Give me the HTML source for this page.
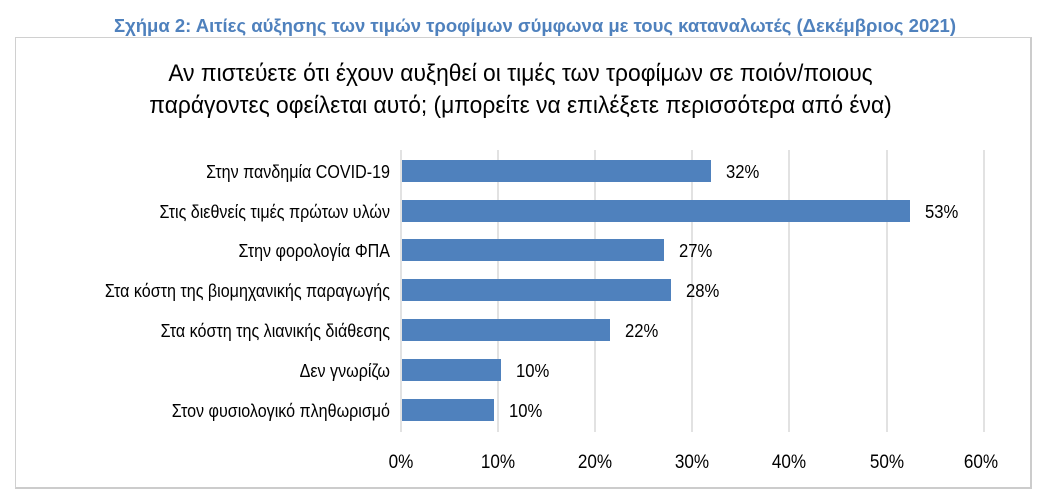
<!DOCTYPE html>
<html><head><meta charset="utf-8"><style>
body{margin:0;width:1041px;height:496px;background:#fff;font-family:"Liberation Sans",sans-serif;position:relative;overflow:hidden}
.t{position:absolute;white-space:nowrap}
</style></head><body>
<div class="t" style="left:0;width:1070px;text-align:center;top:15px;font-size:18.5px;font-weight:bold;color:#4f81bd">Σχήμα 2: Αιτίες αύξησης των τιμών τροφίμων σύμφωνα με τους καταναλωτές (Δεκέμβριος 2021)</div>
<div style="position:absolute;left:15px;top:37px;width:1014px;height:449px;border:1px solid #d0d0d0;border-right:2px solid #ccc;border-bottom:2px solid #ccc"></div>
<div class="t" style="left:0;width:1041px;text-align:center;top:58px;font-size:24px;line-height:32px;color:#000;transform:scaleX(0.95);transform-origin:521px 0">Αν πιστεύετε ότι έχουν αυξηθεί οι τιμές των τροφίμων σε ποιόν/ποιους<br>παράγοντες οφείλεται αυτό; (μπορείτε να επιλέξετε περισσότερα από ένα)</div>
<svg width="1041" height="496" style="position:absolute;left:0;top:0" font-family="Liberation Sans, sans-serif">
<g stroke="#d9d9d9" stroke-width="1.5">
<line x1="401" y1="150" x2="401" y2="432"/><line x1="498" y1="150" x2="498" y2="432"/><line x1="595" y1="150" x2="595" y2="432"/><line x1="692" y1="150" x2="692" y2="432"/><line x1="789" y1="150" x2="789" y2="432"/><line x1="887" y1="150" x2="887" y2="432"/><line x1="984" y1="150" x2="984" y2="432"/>
</g>
<g fill="#4f81bd">
<rect x="402" y="160" width="309" height="22"/>
<rect x="402" y="200" width="508" height="22"/>
<rect x="402" y="239" width="262" height="22"/>
<rect x="402" y="279" width="269" height="22"/>
<rect x="402" y="319" width="208" height="22"/>
<rect x="402" y="359" width="99" height="22"/>
<rect x="402" y="399" width="92" height="22"/>
</g>
<g font-size="18.5" fill="#000" text-anchor="end">
<text transform="translate(390,178) scale(0.87,1)">Στην πανδημία COVID-19</text>
<text transform="translate(390,218) scale(0.87,1)">Στις διεθνείς τιμές πρώτων υλών</text>
<text transform="translate(390,257) scale(0.87,1)">Στην φορολογία ΦΠΑ</text>
<text transform="translate(390,297) scale(0.87,1)">Στα κόστη της βιομηχανικής παραγωγής</text>
<text transform="translate(390,337) scale(0.87,1)">Στα κόστη της λιανικής διάθεσης</text>
<text transform="translate(390,377) scale(0.87,1)">Δεν γνωρίζω</text>
<text transform="translate(390,417) scale(0.87,1)">Στον φυσιολογικό πληθωρισμό</text>
</g>
<g font-size="18.5" fill="#000">
<text transform="translate(726,178) scale(0.9,1)">32%</text>
<text transform="translate(925,218) scale(0.9,1)">53%</text>
<text transform="translate(679,257) scale(0.9,1)">27%</text>
<text transform="translate(686,297) scale(0.9,1)">28%</text>
<text transform="translate(625,337) scale(0.9,1)">22%</text>
<text transform="translate(516,377) scale(0.9,1)">10%</text>
<text transform="translate(509,417) scale(0.9,1)">10%</text>
</g>
<g font-size="19" fill="#000" text-anchor="middle">
<text transform="translate(401,468) scale(0.9,1)">0%</text><text transform="translate(498,468) scale(0.9,1)">10%</text><text transform="translate(595,468) scale(0.9,1)">20%</text><text transform="translate(692,468) scale(0.9,1)">30%</text><text transform="translate(789,468) scale(0.9,1)">40%</text><text transform="translate(887,468) scale(0.9,1)">50%</text><text transform="translate(981,468) scale(0.9,1)">60%</text>
</g>
</svg>
</body></html>
